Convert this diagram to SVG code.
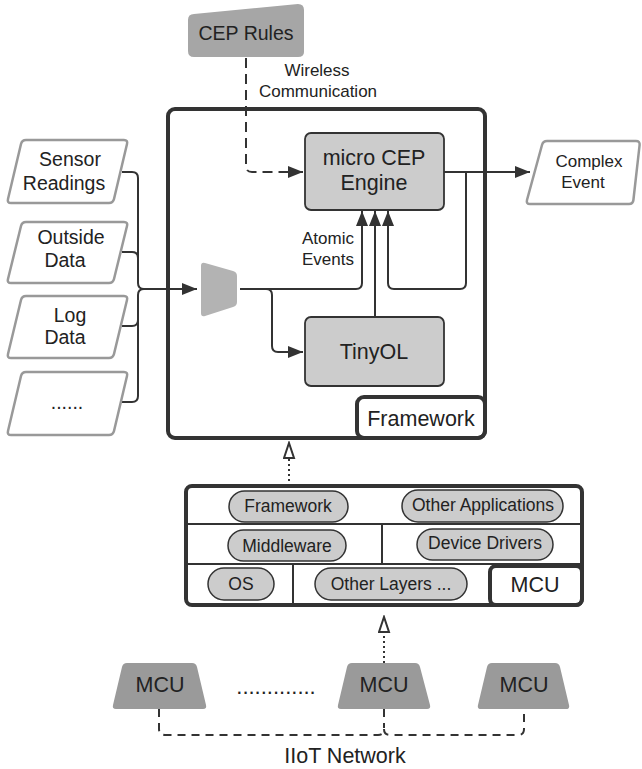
<svg xmlns="http://www.w3.org/2000/svg" width="642" height="769" viewBox="0 0 642 769">
<style>
text{font-family:"Liberation Sans",Arial,sans-serif;fill:#222;text-anchor:middle;dominant-baseline:central}
.in{fill:#fff;stroke:#999;stroke-width:2.5;stroke-linejoin:round}
.proc{fill:#cccccc;stroke:#333;stroke-width:1.8}
.pill{fill:#cccccc;stroke:#333;stroke-width:1.5}
.ln{fill:none;stroke:#333;stroke-width:2}
.thick{fill:none;stroke:#333;stroke-width:4}
.mcu{fill:#9a9a9a}
.big{font-size:21.5px}
.mid{font-size:19.5px}
.sm{font-size:17px}
.pt{font-size:17.5px}
</style>
<defs>
<marker id="ah" markerUnits="userSpaceOnUse" markerWidth="16" markerHeight="12" refX="15" refY="6" orient="auto">
<path d="M0,0 L15,6 L0,12 z" fill="#333"/>
</marker>
<marker id="oh" markerUnits="userSpaceOnUse" markerWidth="18" markerHeight="14" refX="16" refY="6" orient="auto">
<path d="M1,1 L16,6 L1,11 z" fill="#fff" stroke="#333" stroke-width="2"/>
</marker>
</defs>

<g id="connectors">
<path class="ln" d="M246,58 L246,166 Q246,172 252,172 L303,172" stroke-dasharray="10 6" marker-end="url(#ah)"/>
<path class="ln" d="M122,172 L132,172 Q138,172 138,178 L138,283 Q138,289 144,289 L197,289" marker-end="url(#ah)"/>
<path class="ln" d="M122,252 L132,252 Q138,252 138,258 L138,283"/>
<path class="ln" d="M122,326 L132,326 Q138,326 138,320 L138,295 Q138,289 144,289"/>
<path class="ln" d="M122,402 L132,402 Q138,402 138,396 L138,295"/>
<path class="ln" d="M240,289 L356,289 Q362,289 362,283 L362,211" marker-end="url(#ah)"/>
<path class="ln" d="M266,289 Q272,289 272,295 L272,346 Q272,352 278,352 L303,352" marker-end="url(#ah)"/>
<path class="ln" d="M375,317 L375,211" marker-end="url(#ah)"/>
<path class="ln" d="M444,172 L530,172" marker-end="url(#ah)"/>
<path class="ln" d="M466,172 L466,283 Q466,289 460,289 L394,289 Q388,289 388,283 L388,211" marker-end="url(#ah)"/>
<path class="ln" d="M289,486 L289,443" stroke-dasharray="2 3" marker-end="url(#oh)"/>
<path class="ln" d="M384,663 L384,617" stroke-dasharray="2 3" marker-end="url(#oh)"/>
<path class="ln" d="M159,709 L159,729 Q159,735 165,735 L378,735 Q384,735 384,729 Q384,735 390,735 L518,735 Q524,735 524,729 L524,709" stroke-dasharray="8 6"/>
<path class="ln" d="M384,709 L384,728" stroke-dasharray="8 6"/>
</g>

<g id="cep-rules">
<path d="M194,14 L298,4 Q304,4 304,10 L304,52 Q304,57 298,57 L194,57 Q188,57 188,51 L188,20 Q188,14 194,14 Z" fill="#a6a6a6"/>
<text x="246" y="33" class="mid">CEP Rules</text>
</g>
<g id="wireless-label">
<text x="317" y="70" class="sm">Wireless</text>
<text x="318" y="91" class="sm">Communication</text>
</g>

<g id="framework">
<rect class="thick" x="168" y="109" width="317" height="329" rx="7"/>
<rect class="thick" x="357" y="397" width="128" height="41" rx="7" fill="#fff"/>
<text x="421" y="419" class="big">Framework</text>
</g>

<g id="engine">
<rect class="proc" x="305" y="133" width="139" height="77" rx="6"/>
<text x="374" y="158" class="big">micro CEP</text>
<text x="374" y="183" class="big">Engine</text>
</g>

<g id="tinyol">
<rect class="proc" x="305" y="317" width="139" height="69" rx="6"/>
<text x="374" y="352" class="big">TinyOL</text>
</g>

<g id="atomic-label">
<text x="328" y="238" class="sm">Atomic</text>
<text x="328" y="259" class="sm">Events</text>
</g>

<g id="mux">
<path d="M205,263 L233,271 Q237,272 237,276 L237,302 Q237,306 233,307 L205,316 Q201,317 201,313 L201,266 Q201,262 205,263 Z" fill="#b3b3b3"/>
</g>

<g id="sensor">
<path class="in" d="M26,140 L124,140 Q128,140 127,144 L114,199 Q113,203 109,203 L11,203 Q7,203 8,199 L21,144 Q22,140 26,140 Z"/>
<text x="70" y="159" class="mid">Sensor</text>
<text x="64" y="183" class="mid">Readings</text>
</g>
<g id="outside">
<path class="in" d="M26,222 L124,222 Q128,222 127,226 L114,279 Q113,283 109,283 L11,283 Q7,283 8,279 L21,226 Q22,222 26,222 Z"/>
<text x="71" y="237" class="mid">Outside</text>
<text x="65" y="260" class="mid">Data</text>
</g>
<g id="log">
<path class="in" d="M26,296 L124,296 Q128,296 127,300 L114,354 Q113,358 109,358 L11,358 Q7,358 8,354 L21,300 Q22,296 26,296 Z"/>
<text x="70" y="315" class="mid">Log</text>
<text x="65" y="337" class="mid">Data</text>
</g>
<g id="more">
<path class="in" d="M26,372 L124,372 Q128,372 127,376 L114,431 Q113,435 109,435 L11,435 Q7,435 8,431 L21,376 Q22,372 26,372 Z"/>
<text x="67" y="402" class="mid">......</text>
</g>

<g id="complex-event">
<path class="in" d="M547,141 L636,141 Q640,141 639.6,145 L633.4,200 Q633,204 629,204 L530,204 Q526,204 527,200 L542,145 Q543,141 547,141 Z"/>
<text x="589" y="161" class="sm">Complex</text>
<text x="583" y="182" class="sm">Event</text>
</g>

<g id="mcu-stack">
<rect class="thick" x="186" y="486" width="396" height="119" rx="6" fill="#fff"/>
<line class="ln" x1="188" y1="524" x2="584" y2="524" stroke-width="1.5"/>
<line class="ln" x1="188" y1="564" x2="582" y2="564" stroke-width="1.5"/>
<line class="ln" x1="382" y1="524" x2="382" y2="564" stroke-width="1.5"/>
<line class="ln" x1="293" y1="564" x2="293" y2="605" stroke-width="1.5"/>
<rect class="thick" x="490" y="566" width="92" height="39" rx="6" fill="#fff"/>
<text x="535" y="585" class="big">MCU</text>
</g>
<g id="pill-framework">
<rect class="pill" x="229" y="491" width="119" height="31" rx="15.5"/>
<text x="288" y="506" class="pt">Framework</text>
</g>
<g id="pill-other-apps">
<rect class="pill" x="402" y="490" width="161" height="32" rx="16"/>
<text x="483" y="505" class="pt">Other Applications</text>
</g>
<g id="pill-middleware">
<rect class="pill" x="228" y="530" width="118" height="31" rx="15.5"/>
<text x="287" y="546" class="pt">Middleware</text>
</g>
<g id="pill-drivers">
<rect class="pill" x="417" y="529" width="136" height="31" rx="15.5"/>
<text x="485" y="543" class="pt">Device Drivers</text>
</g>
<g id="pill-os">
<rect class="pill" x="208" y="568" width="66" height="32" rx="16"/>
<text x="241" y="584" class="pt">OS</text>
</g>
<g id="pill-other-layers">
<rect class="pill" x="315" y="568" width="152" height="32" rx="16"/>
<text x="391" y="584" class="pt">Other Layers ...</text>
</g>

<g id="mcu-1">
<path class="mcu" d="M127,663 L192,663 Q196,663 197,667 L206,705 Q207,709 203,709 L116,709 Q112,709 113,705 L122,667 Q123,663 127,663 Z"/>
<text x="160" y="685" class="big">MCU</text>
</g>
<g id="mcu-dots">
<text x="276" y="686" font-size="22" dominant-baseline="alphabetic">.............</text>
</g>
<g id="mcu-2">
<path class="mcu" d="M352,663 L415,663 Q419,663 420,667 L430,705 Q431,709 427,709 L341,709 Q337,709 338,705 L347,667 Q348,663 352,663 Z"/>
<text x="384" y="685" class="big">MCU</text>
</g>
<g id="mcu-3">
<path class="mcu" d="M492,663 L555,663 Q559,663 560,667 L569,705 Q570,709 566,709 L481,709 Q477,709 478,705 L487,667 Q488,663 492,663 Z"/>
<text x="524" y="685" class="big">MCU</text>
</g>
<g id="network-label">
<text x="345" y="756" class="big">IIoT Network</text>
</g>
</svg>
